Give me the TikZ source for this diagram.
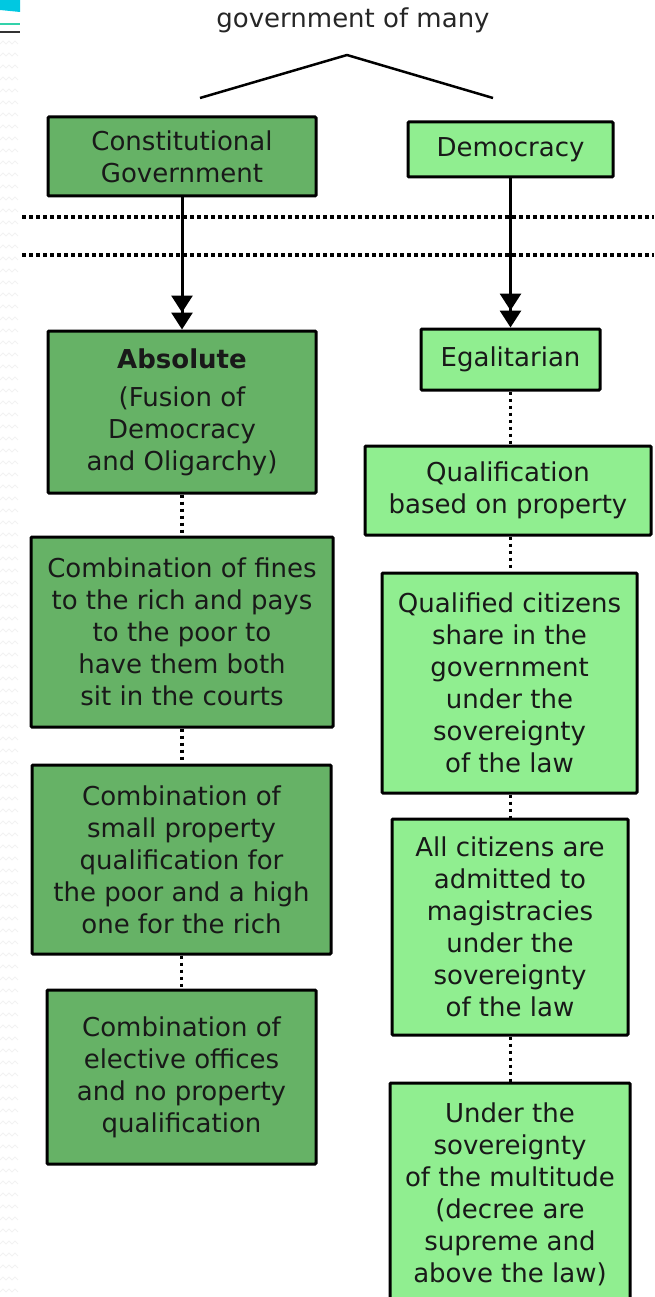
\documentclass[tikz,border=0pt]{standalone}
\usepackage{fontspec}
\setmainfont{DejaVu Sans}
\usetikzlibrary{arrows.meta}
\definecolor{darkleaf}{RGB}{102,178,102}
\definecolor{lightleaf}{RGB}{144,238,144}
\definecolor{stripblue}{RGB}{0,200,225}
\definecolor{stripteal}{RGB}{50,210,170}

\begin{document}
\begin{tikzpicture}[x=1pt, y=-1pt,
		box/.style={draw=black, line width=3pt, rounded corners=1pt, inner sep=0pt, align=center, text=black!90, font=\fontsize{26}{32}\selectfont},
		oldbox/.style={box, fill=darkleaf},
		newbox/.style={box, fill=lightleaf},
		dotline/.style={line width=3.5pt, dash pattern=on 3.5pt off 3.5pt},
		arrowline/.style={line width=3pt, -{Triangle[width=21pt,length=17pt]Triangle[width=21pt,length=17pt]}}]
			\useasboundingbox (0,0) rectangle (654,1297);
			
			% slide strip on the left
			\fill [stripblue] (0,0) -- (20,0) -- (20,12) -- (0,10) -- cycle;
			\draw [stripteal, line width=2pt] (0,24) -- (20,24);
			\draw [black!80, line width=2pt] (0,32) -- (20,32);
			\foreach \y in {44,56,...,1292}{
				\draw [black!5, line width=1pt] (0,\y) -- (3,\y-3) -- (6,\y) -- (9,\y-3) -- (12,\y) -- (15,\y-3) -- (18,\y);}
			
			\node [font=\fontsize{26}{32}\selectfont, text=black!85] (title) at (353,20) {government of many};
			\coordinate (roofL) at (200,98);
			\coordinate (roofT) at (347,55);
			\coordinate (roofR) at (493,98);
			\draw [line width=2.5pt, line join=round] (roofL) -- (roofT) -- (roofR);
			
			\node [oldbox, minimum width=268pt, minimum height=79pt] (cg) at (182,156.5) {Constitutional\\Government};
			\node [newbox, minimum width=205pt, minimum height=55pt] (dem) at (510.5,149.5) {Democracy};
			
			\coordinate (sepA1) at (22,217);
			\coordinate (sepA2) at (654,217);
			\coordinate (sepB1) at (22,255);
			\coordinate (sepB2) at (654,255);
			\draw [dotline] (sepA1) -- (sepA2);
			\draw [dotline] (sepB1) -- (sepB2);
			
			% left column
			\node [oldbox, minimum width=268pt, minimum height=162pt] (abs) at (182,412) {\textbf{Absolute}\\[6pt](Fusion of\\Democracy\\and Oligarchy)};
			\node [oldbox, minimum width=302pt, minimum height=190pt] (fines) at (182,632) {Combination of fines\\to the rich and pays\\to the poor to\\have them both\\sit in the courts};
			\node [oldbox, minimum width=299pt, minimum height=189pt] (small) at (181.5,859.5) {Combination of\\small property\\qualification for\\the poor and a high\\one for the rich};
			\node [oldbox, minimum width=269pt, minimum height=174pt] (elect) at (181.5,1077) {Combination of\\elective offices\\and no property\\qualification};
			
			% right column
			\node [newbox, minimum width=179pt, minimum height=61pt] (ega) at (510.5,359.5) {Egalitarian};
			\node [newbox, minimum width=286pt, minimum height=89pt] (qual) at (508,490.5) {Qualification\\based on property};
			\node [newbox, minimum width=255pt, minimum height=220pt] (qcit) at (509.5,683) {Qualified citizens\\share in the\\government\\under the\\sovereignty\\of the law};
			\node [newbox, minimum width=236pt, minimum height=216pt] (allc) at (510,927) {All citizens are\\admitted to\\magistracies\\under the\\sovereignty\\of the law};
			\node [newbox, minimum width=240pt, minimum height=222pt] (multi) at (510,1194) {Under the\\sovereignty\\of the multitude\\(decree are\\supreme and\\above the law)};
			
			\draw [arrowline] (cg.south) -- (cg.south |- abs.north);
			\draw [arrowline] (dem.south) -- (dem.south |- ega.north);
			
			\draw [dotline] (abs.south) -- (abs.south |- fines.north);
			\draw [dotline] (fines.south) -- (fines.south |- small.north);
			\draw [dotline] (small.south) -- (small.south |- elect.north);
			\draw [dotline] (ega.south) -- (ega.south |- qual.north);
			\draw [dotline] (ega.south |- qual.south) -- (ega.south |- qcit.north);
			\draw [dotline] (ega.south |- qcit.south) -- (ega.south |- allc.north);
			\draw [dotline] (ega.south |- allc.south) -- (ega.south |- multi.north);
		\end{tikzpicture}
\end{document}
